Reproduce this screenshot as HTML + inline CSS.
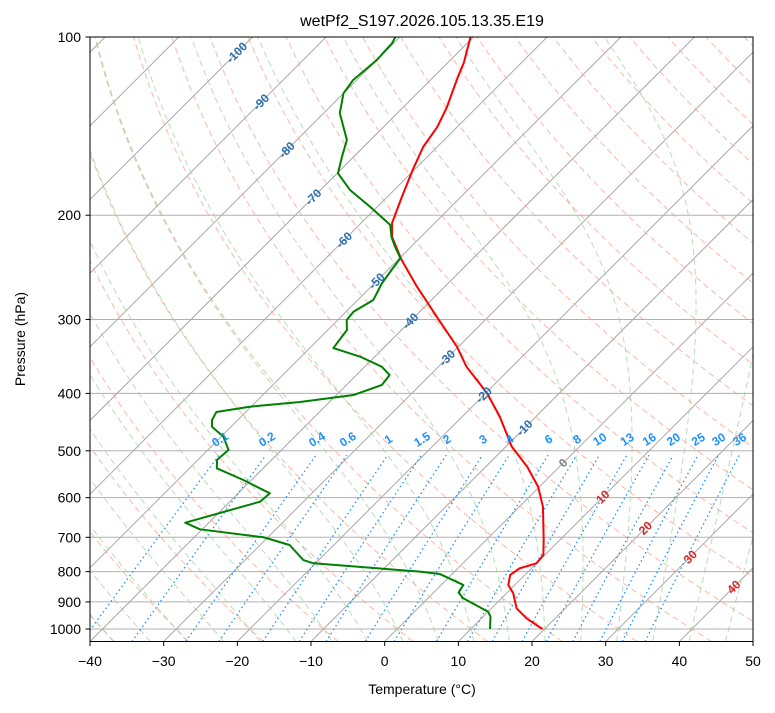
<!DOCTYPE html>
<html><head><meta charset="utf-8"><style>
body{margin:0;background:#fff;}
svg text{font-family:"Liberation Sans","DejaVu Sans",sans-serif;}
</style></head><body>
<svg id="chart" width="775" height="708" viewBox="0 0 775 708" xmlns="http://www.w3.org/2000/svg">
<defs><clipPath id="clip"><rect x="90" y="37" width="663" height="604.5"/></clipPath></defs>
<rect width="775" height="708" fill="#fff"/>
<g id="bg" clip-path="url(#clip)"></g>
<g id="prof" clip-path="url(#clip)"></g>
<g id="lbl"></g>
<rect x="90" y="37" width="663" height="604.5" fill="none" stroke="#000" stroke-width="1"/>
<g id="axes"></g>
<text x="422" y="26" font-size="16" text-anchor="middle">wetPf2_S197.2026.105.13.35.E19</text>
<text x="422" y="694" font-size="14" text-anchor="middle">Temperature (°C)</text>
<text x="25" y="339" font-size="14" text-anchor="middle" transform="rotate(-90 25 339)">Pressure (hPa)</text>
</svg>
<script>
// ---- data ----
const tempP = [100,110.6,116.8,131.3,141.9,153.4,167.8,186.4,206.2,217.7,238,264,296.9,333.6,360.5,399.7,437.8,492,531.8,574.8,621.7,707.3,749.9,774.5,789.5,810.4,842.5,870.2,922.6,959.2,1000];
const tempT = [-70.4,-67.8,-66.7,-64.1,-62.7,-61.9,-60.2,-58.0,-55.8,-53.9,-49.5,-43.8,-37.0,-30.2,-26.2,-19.8,-14.9,-9.2,-4.4,-0.2,3.2,7.8,9.8,10.0,8.4,8.0,9.1,10.9,13.4,16.1,19.7];
const dewP = [100,102.5,109.4,118.2,124.5,134.5,149.3,159.3,169.9,181.3,193.5,207.7,217.6,226,236.4,247.4,260.6,278.1,291.1,300.6,312.6,335.3,346.7,360.5,372.4,387.1,402.5,413.6,421.2,429.9,443.6,455.3,473.3,498.3,518.1,535.2,560.2,589.9,609.5,661.3,678.6,699.9,721.3,764.7,774.5,800,807.3,842.5,868.2,887.4,935,953.3,1000];
const dewT = [-80.6,-80.2,-80.0,-80.5,-80.0,-77.8,-73.2,-71.6,-69.9,-66.0,-61.0,-55.8,-54.0,-52.2,-49.9,-49.5,-49.0,-47.9,-49.0,-48.8,-47.4,-46.8,-42.0,-37.7,-35.5,-35.2,-37.7,-44.0,-50.2,-54.0,-53.5,-52.6,-49.7,-47.2,-47.4,-46.3,-41.1,-35.7,-35.9,-43.2,-40.3,-30.6,-26.0,-22.1,-20.3,-4.7,-1.7,3.0,3.4,4.8,10.0,11.0,12.6];
const xTicks = [-40,-30,-20,-10,0,10,20,30,40,50];
const yTicks = [100,200,300,400,500,600,700,800,900,1000];
const isoLabels = [-100,-90,-80,-70,-60,-50,-40,-30,-20,-10,0,10,20,30,40];
const isoLabelP = [106.3,128.8,155.2,186.4,220.3,258.4,301.9,348.5,402.5,457.5,524.3,598.4,675.2,755.5,849.4];
const mixRatios = [0.1,0.2,0.4,0.6,1,1.5,2,3,4,6,8,10,13,16,20,25,30,36];
const dryT0 = [-40,-30,-20,-10,0,10,20,30,40,50,60,70,80,90,100,110,120,130,140,150,160,170,180,190,200];
const moistT0 = [-50,-45,-40,-35,-30,-25,-20,-15,-10,-5,0,5,10,15,20,25,30,35,40,45];

// ---- axes ----
const NS='http://www.w3.org/2000/svg';
const X0=90, XS=7.367, YB=641.5;
function yOf(p){return 629+592*Math.log10(p/1000);}
function xOf(t,p){return X0+(t+40)*XS+(YB-yOf(p));}
function mk(tag,attrs,parent){const e=document.createElementNS(NS,tag);for(const k in attrs)e.setAttribute(k,attrs[k]);parent.appendChild(e);return e;}
const bg=document.getElementById('bg'), prof=document.getElementById('prof'), lbl=document.getElementById('lbl'), axes=document.getElementById('axes');
const pGrid=[];for(let i=0;i<=120;i++){pGrid.push(1050*Math.pow(100/1050,i/120));}
function pathFrom(ps,ts){return ps.map((p,i)=>(i?'L':'M')+xOf(ts[i],p).toFixed(2)+' '+yOf(p).toFixed(2)).join(' ');}

// horizontal grid
yTicks.forEach(p=>{
 const l=mk('line',{x1:90,x2:753,y1:yOf(p),y2:yOf(p),stroke:'#b0b0b0','stroke-width':1},bg);
 
 
});
// isotherms
for(let t=-200;t<=50;t+=10){
 const l=mk('line',{x1:xOf(t,1050),y1:yOf(1050),x2:xOf(t,100),y2:yOf(100),stroke:'#a8a8a8','stroke-width':1},bg);
 
 
}
// dry adiabats
dryT0.forEach(t0=>{
 const ts=pGrid.map(p=>(t0+273.15)*Math.pow(p/1000,0.2857)-273.15);
 const e=mk('path',{d:pathFrom(pGrid,ts),fill:'none',stroke:'rgb(250,160,135)','stroke-opacity':0.75,'stroke-width':1,'stroke-dasharray':'6,4'},bg);
 
 
});
// moist adiabats
function es(tc){return 6.112*Math.exp(17.67*tc/(tc+243.5));}
function dTdp(T,p){const Rd=287.04,cp=1005.7,Lv=2.501e6,eps=0.622;const e=es(T-273.15);const rs=eps*e/Math.max(p-e,1e-3);
 return (Rd*T+Lv*rs)/(cp+Lv*Lv*rs*eps/(Rd*T*T))/p;}
function moist(t0,pEnd){let T=t0+273.15,p=1000;const out=[[p,T]];const n=200;const dp=(pEnd-1000)/n;
 for(let i=0;i<n;i++){const k1=dTdp(T,p);const k2=dTdp(T+k1*dp/2,p+dp/2);T+=k2*dp;p+=dp;out.push([p,T]);}return out;}
moistT0.forEach(t0=>{
 const up=moist(t0,100).reverse(), dn=moist(t0,1050);
 const pts=up.concat(dn.slice(1)).reverse();
 const ps=pts.map(a=>a[0]), ts=pts.map(a=>a[1]-273.15);
 const e=mk('path',{d:pathFrom(ps,ts),fill:'none',stroke:'rgb(160,210,160)','stroke-opacity':0.75,'stroke-width':1,'stroke-dasharray':'6,4'},bg);
 
 
});
// mixing ratio lines
function tdFromW(wgkg,p){const w=wgkg/1000;const e=w*p/(0.622+w);const l=Math.log(e/6.112);return 243.5*l/(17.67-l);}
mixRatios.forEach(w=>{
 const ps=pGrid.filter(p=>p>=500);
 const ts=ps.map(p=>tdFromW(w,p));
 const e=mk('path',{d:pathFrom(ps,ts),fill:'none',stroke:'#1e90ff','stroke-width':1.3,'stroke-dasharray':'1.5,3'},bg);
 
 
 const x=xOf(tdFromW(w,500),500), y=yOf(500)-8;
 const t=mk('text',{x:x,y:y,'font-size':12,'font-weight':'bold',fill:'#1e90ff','text-anchor':'middle',transform:`rotate(-32 ${x} ${y})`},lbl);
 t.textContent=String(w);
 
 
});
// isotherm labels
isoLabels.forEach((v,i)=>{
 const p=isoLabelP[i];const x=xOf(v,p), y=yOf(p)+4;
 const c=v<0?'#2a6fb0':(v===0?'#808080':'#d62728');
 const t=mk('text',{x:x,y:y,'font-size':12,'font-weight':'bold',fill:c,'text-anchor':'middle',transform:`rotate(-45 ${x} ${y-4})`},lbl);
 t.textContent=String(v);
 
 
});
// profiles
const tp=mk('path',{d:pathFrom(tempP,tempT),fill:'none',stroke:'#ff0000','stroke-width':2,'stroke-linejoin':'round'},prof);


const dp=mk('path',{d:pathFrom(dewP,dewT),fill:'none',stroke:'#008000','stroke-width':2,'stroke-linejoin':'round'},prof);


// ticks
xTicks.forEach(t=>{
 const x=X0+(t+40)*XS;
 mk('line',{x1:x,x2:x,y1:641.5,y2:646,stroke:'#000'},axes);
 const e=mk('text',{x:x,y:666,'font-size':14,'text-anchor':'middle'},axes);
 e.textContent=(t<0?'\u2212':'')+Math.abs(t);
 
 
});
yTicks.forEach(p=>{
 const y=yOf(p);
 mk('line',{x1:85.5,x2:90,y1:y,y2:y,stroke:'#000'},axes);
 const e=mk('text',{x:81,y:y+5,'font-size':14,'text-anchor':'end'},axes);
 e.textContent=String(p);
 
 
});
</script>
</body></html>
